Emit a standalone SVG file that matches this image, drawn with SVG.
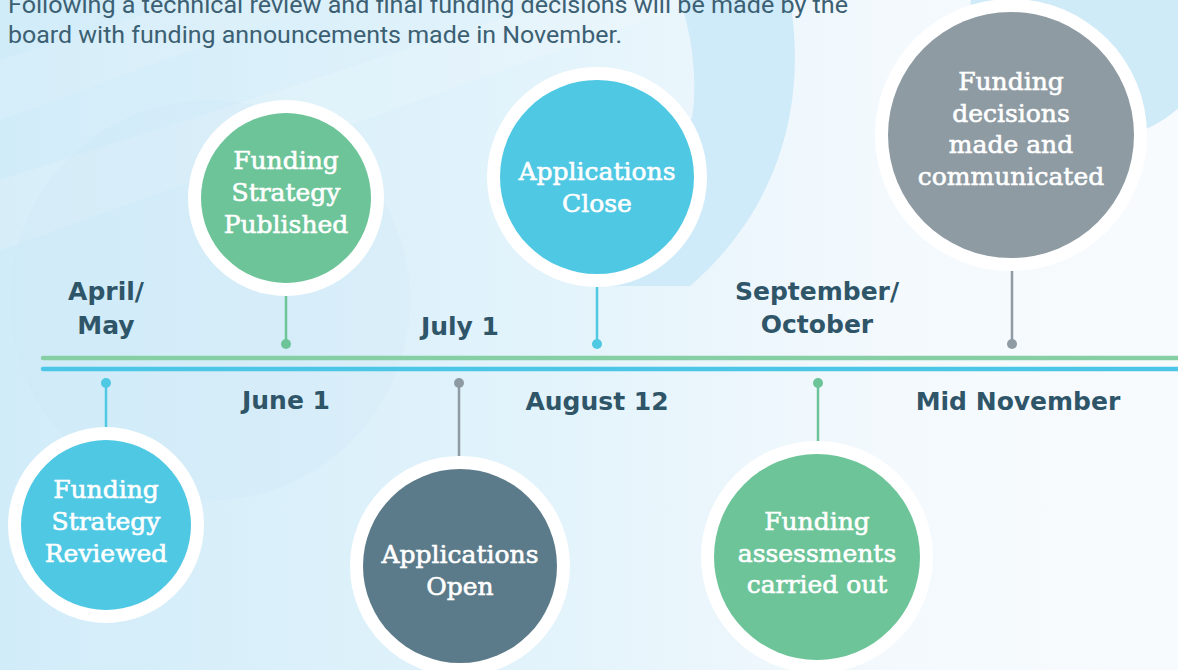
<svg xmlns="http://www.w3.org/2000/svg" width="1178" height="670" viewBox="0 0 1178 670">
<defs>
<linearGradient id="bg" x1="0" y1="0" x2="1" y2="0">
<stop offset="0" stop-color="#d1ecf9"/>
<stop offset="0.45" stop-color="#e2f3fb"/>
<stop offset="0.75" stop-color="#f3f9fd"/>
<stop offset="1" stop-color="#f8fbfe"/>
</linearGradient>
<style>
.ring{fill:#ffffff}
.green{fill:#6cc498}
.blue{fill:#4fc8e4}
.gray{fill:#8e9ba3}
.slate{fill:#5c7b8a}
.ctext{font-family:"DejaVu Serif","Liberation Serif",serif;font-size:25px;fill:#ffffff;stroke:#ffffff;stroke-width:0.6;text-anchor:middle}
.date{font-family:"DejaVu Sans","Liberation Sans",sans-serif;font-weight:bold;font-size:25px;fill:#2f5569;text-anchor:middle}
.intro{font-family:Roboto,"Liberation Sans",sans-serif;font-size:23px;fill:#3c6073}
.cg{stroke:#6cc498;stroke-width:2.5;fill:none}
.cb{stroke:#4fc8e4;stroke-width:2.5;fill:none}
.cy{stroke:#8e9ba3;stroke-width:2.5;fill:none}
</style>
</defs>

<!-- background -->
<rect x="0" y="0" width="1178" height="670" fill="url(#bg)"/>
<polygon points="0,250 0,180 560,0 700,0" fill="#ffffff" opacity="0.14"/>
<polygon points="0,120 0,60 190,0 330,0" fill="#ffffff" opacity="0.1"/>
<circle cx="210" cy="300" r="200" fill="#c6e6f6" opacity="0.18"/>
<path d="M680,0 L790,0 C802,70 800,190 690,286 L597,286 L597,177 L692,118 C698,80 692,35 680,0 Z" fill="#cfeaf8"/>
<circle cx="1095" cy="15" r="125" fill="#d0ebf8"/>

<!-- intro text -->
<text class="intro" x="8" y="13" textLength="840" lengthAdjust="spacingAndGlyphs">Following a technical review and final funding decisions will be made by the</text>
<text class="intro" x="8" y="43" textLength="614" lengthAdjust="spacingAndGlyphs">board with funding announcements made in November.</text>

<!-- timeline and connectors -->
<g id="connectors">
<line x1="43" y1="358" x2="1180" y2="358" stroke="#86cfa5" stroke-width="4.5" stroke-linecap="round"/>
<line x1="43" y1="369" x2="1180" y2="369" stroke="#4cc6e6" stroke-width="4.5" stroke-linecap="round"/>
<line class="cg" x1="286" y1="296" x2="286" y2="344"/>
<circle cx="286" cy="344" r="5" class="green"/>
<line class="cb" x1="597" y1="287" x2="597" y2="344"/>
<circle cx="597" cy="344" r="5" class="blue"/>
<line class="cy" x1="1012" y1="271" x2="1012" y2="344"/>
<circle cx="1012" cy="344" r="5" class="gray"/>
<line class="cb" x1="106" y1="383" x2="106" y2="427"/>
<circle cx="106" cy="383" r="5" class="blue"/>
<line class="cy" x1="459" y1="383" x2="459" y2="456"/>
<circle cx="459" cy="383" r="5" class="gray"/>
<line class="cg" x1="818" y1="383" x2="818" y2="441"/>
<circle cx="818" cy="383" r="5" class="green"/>
</g>

<!-- date labels -->
<g id="dates">
<text class="date" x="106" y="300">April/</text>
<text class="date" x="106" y="334">May</text>
<text class="date" x="286" y="409">June 1</text>
<text class="date" x="460" y="335">July 1</text>
<text class="date" x="597" y="410">August 12</text>
<text class="date" x="817" y="300">September/</text>
<text class="date" x="817" y="333">October</text>
<text class="date" x="1018" y="410">Mid November</text>
</g>

<!-- nodes -->
<g id="node-strategy-published">
<circle cx="286" cy="198" r="98" class="ring"/>
<circle cx="286" cy="198" r="85" class="green"/>
<text class="ctext" x="286" y="169">Funding</text>
<text class="ctext" x="286" y="201">Strategy</text>
<text class="ctext" x="286" y="233">Published</text>
</g>

<g id="node-applications-close">
<circle cx="597" cy="177" r="110" class="ring"/>
<circle cx="597" cy="177" r="97" class="blue"/>
<text class="ctext" x="597" y="180">Applications</text>
<text class="ctext" x="597" y="212">Close</text>
</g>

<g id="node-decisions">
<circle cx="1011" cy="135" r="136" class="ring"/>
<circle cx="1011" cy="135" r="123" class="gray"/>
<text class="ctext" x="1011" y="90">Funding</text>
<text class="ctext" x="1011" y="122">decisions</text>
<text class="ctext" x="1011" y="153">made and</text>
<text class="ctext" x="1011" y="185">communicated</text>
</g>

<g id="node-strategy-reviewed">
<circle cx="106" cy="525" r="98" class="ring"/>
<circle cx="106" cy="525" r="85" class="blue"/>
<text class="ctext" x="106" y="498">Funding</text>
<text class="ctext" x="106" y="530">Strategy</text>
<text class="ctext" x="106" y="562">Reviewed</text>
</g>

<g id="node-applications-open">
<circle cx="460" cy="566" r="110" class="ring"/>
<circle cx="460" cy="566" r="97" class="slate"/>
<text class="ctext" x="460" y="563">Applications</text>
<text class="ctext" x="460" y="595">Open</text>
</g>

<g id="node-assessments">
<circle cx="817" cy="557" r="116" class="ring"/>
<circle cx="817" cy="557" r="103" class="green"/>
<text class="ctext" x="817" y="530">Funding</text>
<text class="ctext" x="817" y="562">assessments</text>
<text class="ctext" x="817" y="593">carried out</text>
</g>
</svg>
